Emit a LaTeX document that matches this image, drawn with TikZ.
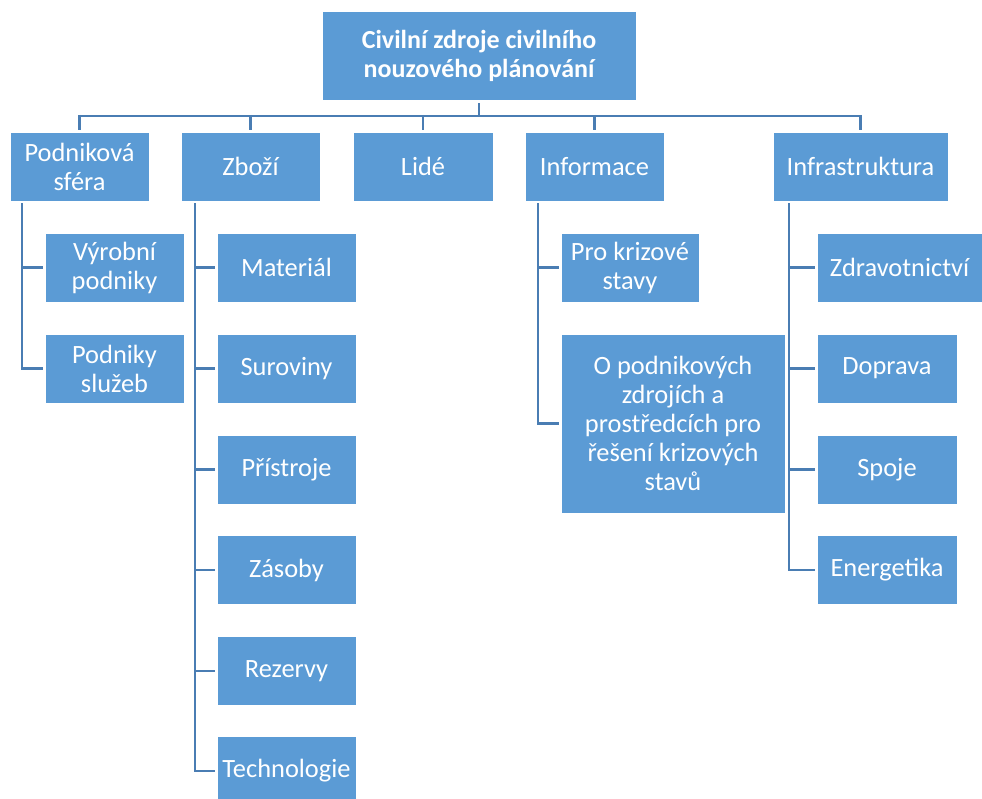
\documentclass[tikz,border=0pt]{standalone}
\usepackage{fontspec}
\setmainfont{Carlito}
\definecolor{boxblue}{HTML}{5B9BD5}
\definecolor{linkblue}{HTML}{4A7DB3}
\begin{document}
\begin{tikzpicture}[x=1pt,y=-1pt,
  bx/.style 2 args={rectangle, fill=boxblue, draw=white, line width=0.5pt,
    text=white, align=center, inner sep=0pt, minimum width=#1, minimum height=#2,
    font=\fontsize{26.4}{29}\selectfont},
  link/.style={draw=linkblue, line width=2.5pt}]
\useasboundingbox (0,0) rectangle (982,798);
\coordinate (bus) at (479,116);
% nodes
\node[bx={314}{89}, font=\bfseries\fontsize{26}{29}\selectfont] (root) at (479,55.5) {Civilní zdroje civilního\\nouzového plánování};
\node[bx={139}{69}] (p1) at (79.5,166.5) {Podniková\\sféra};
\node[bx={139}{69}] (p2) at (250.5,166.5) {Zboží};
\node[bx={140}{69}] (p3) at (423,166.5) {Lidé};
\node[bx={139}{69}] (p4) at (594.5,166.5) {Informace};
\node[bx={175}{69}] (p5) at (860.5,166.5) {Infrastruktura};
% Podnikova children
\node[bx={139}{69}] (a1) at (114.5,267.5) {Výrobní\\podniky};
\node[bx={139}{69}] (a2) at (114.5,368.5) {Podniky\\služeb};
% Zbozi children
\node[bx={139}{69}] (b1) at (286.5,267.5) {Materiál};
\node[bx={139}{69}] (b2) at (286.5,368.5) {Suroviny};
\node[bx={139}{69}] (b3) at (286.5,469.5) {Přístroje};
\node[bx={139}{69}] (b4) at (286.5,570) {Zásoby};
\node[bx={139}{69}] (b5) at (286.5,671) {Rezervy};
\node[bx={139}{69}] (b6) at (286.5,771) {Technologie};
% Informace children
\node[bx={138}{69}] (c1) at (630,267.5) {Pro krizové\\stavy};
\node[bx={224}{179}] (c2) at (673,423.5) {O podnikových\\zdrojích a\\prostředcích pro\\řešení krizových\\stavů};
% Infrastruktura children
\node[bx={165}{69}] (d1) at (899.5,267.5) {Zdravotnictví};
\node[bx={140}{69}] (d2) at (887,368.5) {Doprava};
\node[bx={140}{69}] (d3) at (887,469.5) {Spoje};
\node[bx={140}{69}] (d4) at (887,570) {Energetika};
% connectors
\draw[link, shorten <=3pt] (root.south) -- (bus);
\draw[link] (p1.north |- bus) -- (p5.north |- bus);
\foreach \p in {p1,p2,p3,p4,p5}{
  \draw[link, shorten >=2pt] ([yshift=1.25pt]\p.north |- bus) -- (\p.north);
}
\coordinate (ta) at ([xshift=12pt,yshift=-2pt]p1.south west);
\coordinate (tb) at ([xshift=14pt,yshift=-2pt]p2.south west);
\coordinate (tc) at ([xshift=13pt,yshift=-2pt]p4.south west);
\coordinate (td) at ([xshift=16pt,yshift=-2pt]p5.south west);
\foreach \c in {a1,a2}{\draw[link, shorten >=2pt] (ta) |- (\c.west);}
\foreach \c in {b1,b2,b3,b4,b5,b6}{\draw[link, shorten >=2pt] (tb) |- (\c.west);}
\foreach \c in {c1,c2}{\draw[link, shorten >=2pt] (tc) |- (\c.west);}
\foreach \c in {d1,d2,d3,d4}{\draw[link, shorten >=2pt] (td) |- (\c.west);}
\end{tikzpicture}
\end{document}
